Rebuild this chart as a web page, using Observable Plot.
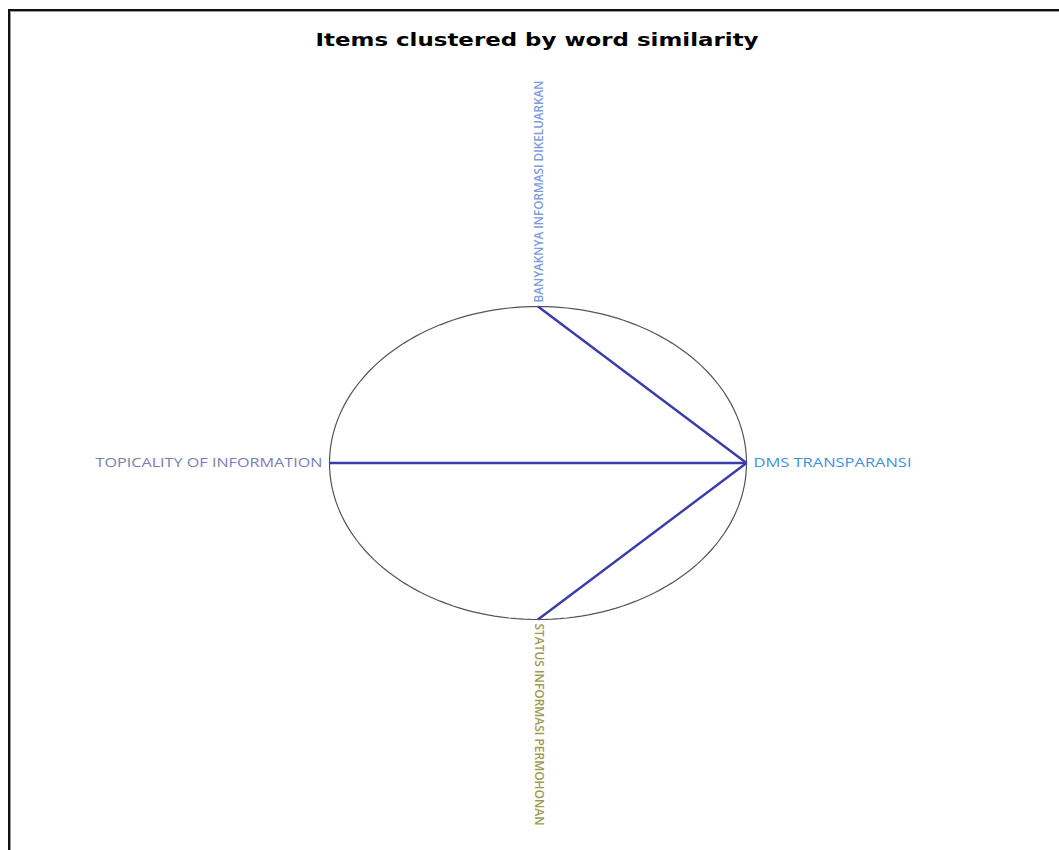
<!DOCTYPE html>
<html>
<head>
<meta charset="utf-8">
<script src="https://cdn.jsdelivr.net/npm/d3@7"></script>
<script src="https://cdn.jsdelivr.net/npm/@observablehq/plot@0.6"></script>
<style>
  html, body { margin: 0; padding: 0; background: #fff; }
  #wrap { position: relative; width: 1059px; height: 850px; overflow: hidden; background: #fff; }
  #frame { position: absolute; left: 8px; top: 9px; width: 1060px; height: 850px;
           border-top: 2px solid #111; border-left: 2px solid #111;
           box-shadow: inset 1px 1px 0 #999; box-sizing: border-box; }
  #title { position: absolute; left: 0; top: 28px; width: 1075px; text-align: center;
           font-family: "DejaVu Sans", sans-serif; font-weight: 700; font-size: 18px; color: #000; line-height: 24px; }
  #title span { display: inline-block; transform-origin: 50% 50%; }
  #chart { position: absolute; left: 0; top: 70px; }
</style>
</head>
<body>
<div id="wrap">
  <div id="frame"></div>
  <div id="title"><span>Items clustered by word similarity</span></div>
  <div id="chart"></div>
</div>
<script>
// Items placed on the cluster circle (unit circle coordinates)
const items = ["DMS TRANSPARANSI", "BANYAKNYA INFORMASI DIKELUARKAN", "TOPICALITY OF INFORMATION", "STATUS INFORMASI PERMOHONAN"];
const itemX = [1, 0, -1, 0];
const itemY = [0, 1, 0, -1];
// Links between items (source -> target)
const linkSource = ["DMS TRANSPARANSI", "DMS TRANSPARANSI", "DMS TRANSPARANSI"];
const linkTarget = ["BANYAKNYA INFORMASI DIKELUARKAN", "TOPICALITY OF INFORMATION", "STATUS INFORMASI PERMOHONAN"];

const itemColors = ["#3f8fdc", "#7d9de2", "#7c7cb4", "#9c9b52"];

const nodes = items.map((name, i) => ({name, x: itemX[i], y: itemY[i]}));
const byName = new Map(nodes.map(d => [d.name, d]));
const links = linkSource.map((s, i) => ({
  x1: byName.get(s).x, y1: byName.get(s).y,
  x2: byName.get(linkTarget[i]).x, y2: byName.get(linkTarget[i]).y
}));
// layout circle
const ring = d3.range(0, 361, 2).map(a => ({x: Math.cos(a * Math.PI / 180), y: Math.sin(a * Math.PI / 180)}));

const rightNodes = nodes.filter(d => d.x > 0.5);
const leftNodes = nodes.filter(d => d.x < -0.5);
const topNodes = nodes.filter(d => d.y > 0.5);
const bottomNodes = nodes.filter(d => d.y < -0.5);

const font = "Open Sans";
const chart = Plot.plot({
  width: 1059,
  height: 770,
  margin: 0,
  style: {background: "transparent", overflow: "visible", fontFamily: font},
  x: {domain: [-1, 1], range: [329, 746], axis: null},
  y: {domain: [-1, 1], range: [549, 236], axis: null},
  color: {domain: items, range: itemColors},
  marks: [
    Plot.line(ring, {x: "x", y: "y", stroke: "#555", strokeWidth: 1.2}),
    Plot.link(links, {x1: "x1", y1: "y1", x2: "x2", y2: "y2", stroke: "#3a3caa", strokeWidth: 2.4}),
    Plot.text(rightNodes, {x: "x", y: "y", text: "name", fill: d => d.name, textAnchor: "start", dx: 7, fontSize: 13, className: "lbl-r"}),
    Plot.text(leftNodes, {x: "x", y: "y", text: "name", fill: d => d.name, textAnchor: "end", dx: -7, fontSize: 13, className: "lbl-l"}),
    Plot.text(topNodes, {x: "x", y: "y", text: "name", fill: d => d.name, textAnchor: "start", rotate: -90, dy: -4, dx: 1, fontSize: 13, fontWeight: 600, className: "lbl-t"}),
    Plot.text(bottomNodes, {x: "x", y: "y", text: "name", fill: d => d.name, textAnchor: "start", rotate: 90, dy: 4, dx: 1, fontSize: 13, fontWeight: 600, className: "lbl-b"})
  ]
});
document.getElementById("chart").appendChild(chart);

// fit label widths to the reference's condensed lettering
const fits = {"lbl-r": 158, "lbl-l": 227, "lbl-t": 222, "lbl-b": 202};
for (const [cls, len] of Object.entries(fits)) {
  chart.querySelectorAll("g." + cls + " text").forEach(t => {
    t.setAttribute("textLength", len);
    t.setAttribute("lengthAdjust", "spacingAndGlyphs");
  });
}
// fit title width
const ts = document.querySelector("#title span");
const tw = ts.getBoundingClientRect().width;
if (tw > 0) ts.style.transform = `scaleX(${443 / tw})`;
</script>
</body>
</html>
